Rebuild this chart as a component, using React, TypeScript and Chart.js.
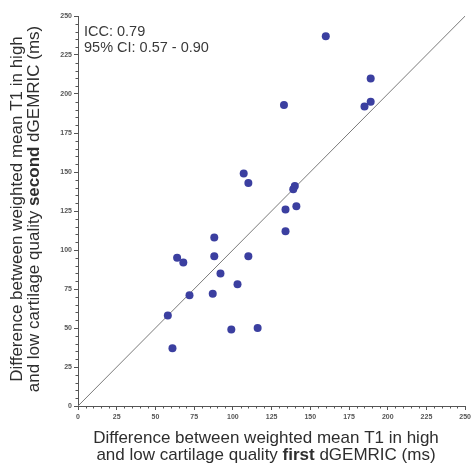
import React, { useEffect, useRef } from "react";
import { Chart, registerables } from "chart.js";

Chart.register(...registerables);

const firstExam: number[] = [160, 189, 133, 185, 189, 107, 110, 140, 139, 134, 141, 134, 88, 64, 68, 88, 110, 92, 103, 72, 87, 58, 61, 99, 116];
const secondExam: number[] = [237, 210, 193, 192, 195, 149, 143, 141, 139, 126, 128, 112, 108, 95, 92, 96, 96, 85, 78, 71, 72, 58, 37, 49, 50];
const identityLine: number[] = [0, 250];
const axisMin = 0;
const axisMax = 250;
const majorStep = 25;
const minorStep = 5;
const annotationLines: string[] = ["ICC: 0.79", "95% CI: 0.57 - 0.90"];
const xTitle: string[][] = [["Difference between weighted mean T1 in high"], ["and low cartilage quality ", "first", " dGEMRIC (ms)"]];
const yTitle: string[][] = [["Difference between weighted mean T1 in high"], ["and low cartilage quality ", "second", " dGEMRIC (ms)"]];

const FONT = "'Liberation Sans', Arial, sans-serif";
const TITLE_SIZE = 17;

function drawMixed(ctx: CanvasRenderingContext2D, parts: string[], cx: number, baseline: number) {
  const fonts = parts.map((_, i) => (i % 2 === 1 ? `bold ${TITLE_SIZE}px ${FONT}` : `${TITLE_SIZE}px ${FONT}`));
  let total = 0;
  const widths = parts.map((p, i) => {
    ctx.font = fonts[i];
    const w = ctx.measureText(p).width;
    total += w;
    return w;
  });
  let x = cx - total / 2;
  ctx.textAlign = "left";
  ctx.textBaseline = "alphabetic";
  parts.forEach((p, i) => {
    ctx.font = fonts[i];
    ctx.fillText(p, x, baseline);
    x += widths[i];
  });
}

const decorPlugin = {
  id: "decor",
  afterDraw(chart: any) {
    const ctx: CanvasRenderingContext2D = chart.ctx;
    const xs = chart.scales.x;
    const ys = chart.scales.y;
    const area = chart.chartArea;
    ctx.save();
    ctx.strokeStyle = "#555";
    ctx.lineWidth = 1;
    for (let v = axisMin; v <= axisMax; v += minorStep) {
      if (v % majorStep === 0) continue;
      const px = Math.round(xs.getPixelForValue(v)) + 0.5;
      ctx.beginPath();
      ctx.moveTo(px, area.bottom);
      ctx.lineTo(px, area.bottom + 2.5);
      ctx.stroke();
      const py = Math.round(ys.getPixelForValue(v)) + 0.5;
      ctx.beginPath();
      ctx.moveTo(area.left, py);
      ctx.lineTo(area.left - 2.5, py);
      ctx.stroke();
    }
    ctx.fillStyle = "#3a3a3a";
    ctx.font = `14.5px ${FONT}`;
    ctx.textAlign = "left";
    ctx.textBaseline = "middle";
    annotationLines.forEach((t, i) => ctx.fillText(t, 84, 32 + i * 16));
    ctx.fillStyle = "#2e2e2e";
    xTitle.forEach((parts, i) => drawMixed(ctx, parts, 266, 443 + i * 17));
    yTitle.forEach((parts, i) => {
      ctx.save();
      ctx.translate(22 + i * 17, 209);
      ctx.rotate(-Math.PI / 2);
      drawMixed(ctx, parts, 0, 0);
      ctx.restore();
    });
    ctx.restore();
  },
};

export default function App() {
  const ref = useRef<HTMLCanvasElement>(null);
  useEffect(() => {
    if (!ref.current) return;
    const points = firstExam.map((x, i) => ({ x, y: secondExam[i] }));
    const line = identityLine.map((v) => ({ x: v, y: v }));
    const tickFont = { size: 7, weight: "bold" as const, family: FONT };
    const chart = new Chart(ref.current, {
      type: "scatter",
      data: {
        datasets: [
          {
            type: "line" as any,
            data: line,
            borderColor: "#7a7a7a",
            borderWidth: 1,
            pointRadius: 0,
            fill: false,
            order: 2,
          },
          {
            data: points,
            backgroundColor: "#3b3fa0",
            borderColor: "#3b3fa0",
            pointRadius: 4,
            borderWidth: 0,
            order: 1,
          },
        ],
      },
      options: {
        animation: false,
        responsive: true,
        maintainAspectRatio: false,
        layout: { padding: { left: 0, top: 16, right: 6, bottom: 0 } },
        plugins: { legend: { display: false }, tooltip: { enabled: false } },
        scales: {
          x: {
            type: "linear",
            min: axisMin,
            max: axisMax,
            afterFit: (s: any) => { s.height = 60; },
            ticks: { stepSize: majorStep, font: tickFont, color: "#555", maxRotation: 0, padding: 3 },
            grid: { display: true, drawOnChartArea: false, tickLength: 4, color: "#555" },
            border: { display: true, color: "#555", width: 1 },
          },
          y: {
            type: "linear",
            min: axisMin,
            max: axisMax,
            afterFit: (s: any) => { s.width = 78; },
            ticks: { stepSize: majorStep, font: tickFont, color: "#555", padding: 2 },
            grid: { display: true, drawOnChartArea: false, tickLength: 4, color: "#555" },
            border: { display: true, color: "#555", width: 1 },
          },
        },
      },
      plugins: [decorPlugin],
    });
    return () => chart.destroy();
  }, []);
  return (
    <div style={{ position: "fixed", left: 0, top: 0, width: 474, height: 466, background: "#fff" }}>
      <canvas ref={ref} />
    </div>
  );
}
